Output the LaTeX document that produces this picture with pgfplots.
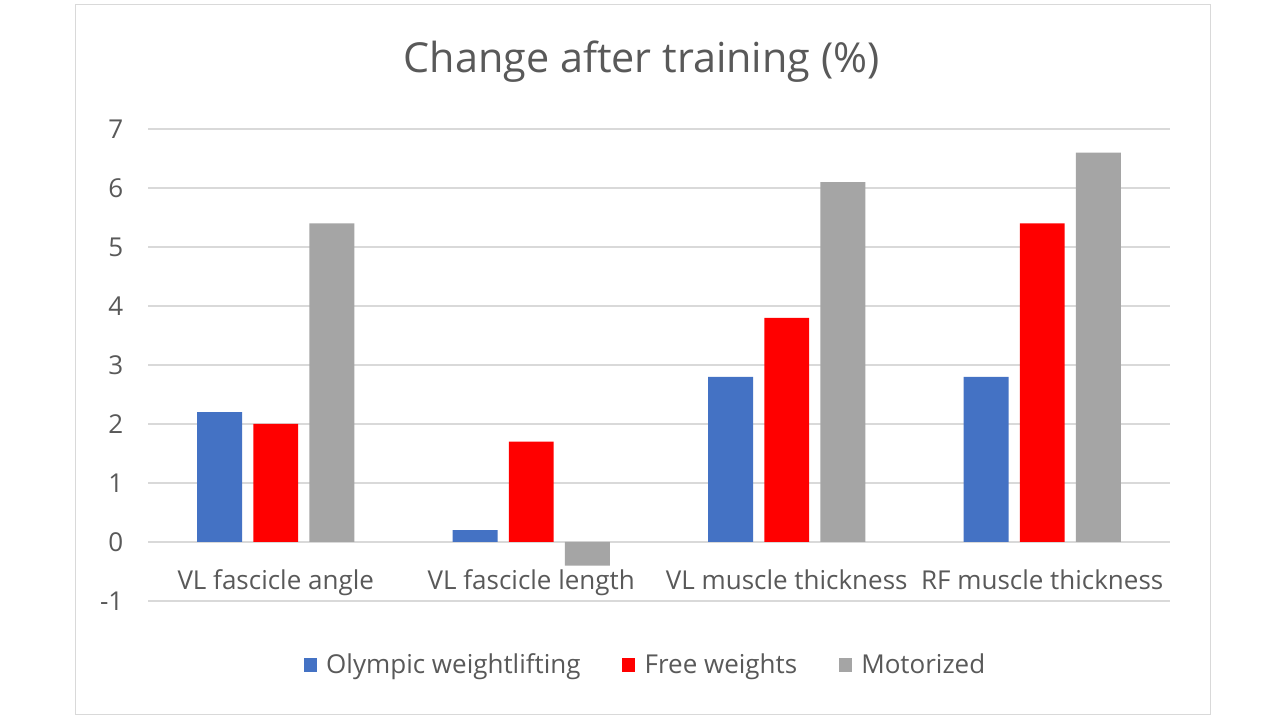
\documentclass[border=0pt]{standalone}
\usepackage{pgfplots}
\pgfplotsset{compat=1.18}
\usepackage{fontspec}
\setmainfont{Open Sans}
\definecolor{txt}{HTML}{595959}
\definecolor{grd}{HTML}{D9D9D9}
\definecolor{cblue}{HTML}{4472C4}
\definecolor{cred}{HTML}{FF0000}
\definecolor{cgray}{HTML}{A5A5A5}
\begin{document}
\begin{tikzpicture}
\useasboundingbox[fill=white] (0pt,0pt) rectangle (960pt,540pt);
\draw[grd, line width=0.75pt] (56.25pt,3.75pt) rectangle (907.5pt,536.25pt);
\begin{axis}[
  at={(111pt,89.25pt)}, anchor=south west,
  scale only axis, width=766.5pt, height=354pt,
  xmin=-0.5, xmax=3.5, ymin=-1, ymax=7,
  ytick={-1,0,...,7},
  xtick={0,1,2,3},
  xticklabels={VL fascicle angle, VL fascicle length, VL muscle thickness, RF muscle thickness},
  axis line style={draw=none},
  major tick length=0pt,
  ymajorgrids, grid style={grd, line width=1.2pt},
  tick label style={font=\fontsize{19.5}{23}\selectfont, text=txt},
  yticklabel style={xshift=-15pt},
  xticklabel style={yshift=27pt},
  /pgf/number format/assume math mode=true,
  legend style={at={(0.487,-0.1356)}, anchor=center, draw=none, font=\fontsize{19.5}{23}\selectfont, text=txt, legend columns=3,
    /tikz/every odd column/.append style={column sep=5pt},
    /tikz/every even column/.append style={column sep=29pt}},
  legend image code/.code={\fill[#1] (0pt,-5pt) rectangle (10pt,5pt);},
  clip=false,
]
\addplot[ybar, bar width=0.176, bar shift=-0.22, fill=cblue, draw=none] coordinates {(0,2.2) (1,0.2) (2,2.8) (3,2.8)};
\addplot[ybar, bar width=0.176, bar shift=0, fill=cred, draw=none] coordinates {(0,2.0) (1,1.7) (2,3.8) (3,5.4)};
\addplot[ybar, bar width=0.176, bar shift=0.22, fill=cgray, draw=none] coordinates {(0,5.4) (1,-0.4) (2,6.1) (3,6.6)};
\legend{Olympic weightlifting, Free weights, Motorized}
\node[font=\fontsize{31}{37}\selectfont, text=txt] at (axis description cs:0.483,1.142) {Change after training (\%)};
\end{axis}
\end{tikzpicture}
\end{document}
